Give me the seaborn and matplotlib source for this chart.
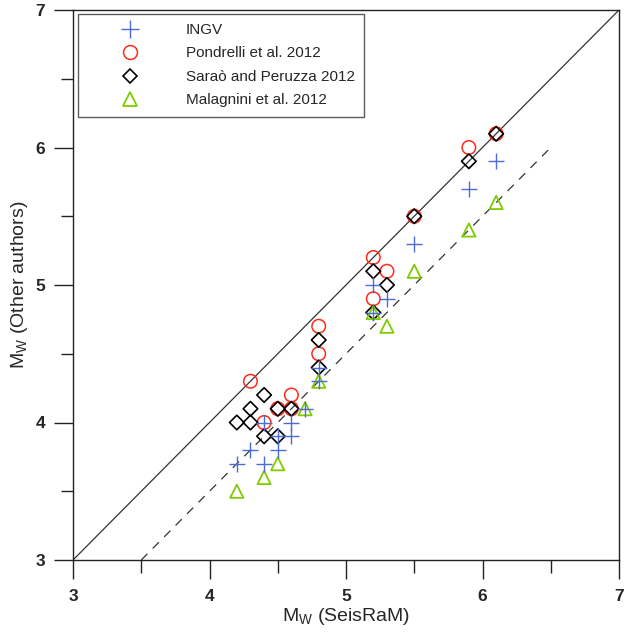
import matplotlib
matplotlib.use("Agg")
import matplotlib.pyplot as plt
import seaborn as sns
import pandas as pd
import numpy as np
from matplotlib.ticker import MultipleLocator
from matplotlib.lines import Line2D

sns.set_theme(style="white")
plt.rcParams['font.family'] = ['Liberation Sans', 'DejaVu Sans']

# INGV
ingv_x = [4.2, 4.3, 4.4, 4.4, 4.5, 4.5, 4.6, 4.6, 4.7, 4.8, 4.8, 5.2, 5.2, 5.3, 5.5, 5.9, 6.1]
ingv_y = [3.7, 3.8, 3.7, 4.0, 3.8, 3.9, 3.9, 4.0, 4.1, 4.4, 4.3, 5.0, 4.8, 4.9, 5.3, 5.7, 5.9]
# Pondrelli et al. 2012
pon_x = [4.3, 4.4, 4.5, 4.6, 4.6, 4.8, 4.8, 5.2, 5.2, 5.3, 5.5, 5.9, 6.1]
pon_y = [4.3, 4.0, 4.1, 4.1, 4.2, 4.5, 4.7, 4.9, 5.2, 5.1, 5.5, 6.0, 6.1]
# Sarao and Peruzza 2012
sar_x = [4.2, 4.3, 4.3, 4.4, 4.4, 4.5, 4.5, 4.6, 4.8, 4.8, 5.2, 5.2, 5.3, 5.5, 5.9, 6.1]
sar_y = [4.0, 4.0, 4.1, 3.9, 4.2, 3.9, 4.1, 4.1, 4.4, 4.6, 4.8, 5.1, 5.0, 5.5, 5.9, 6.1]
# Malagnini et al. 2012
mal_x = [4.2, 4.4, 4.5, 4.7, 4.8, 5.2, 5.3, 5.5, 5.9, 6.1]
mal_y = [3.5, 3.6, 3.7, 4.1, 4.3, 4.8, 4.7, 5.1, 5.4, 5.6]

# reference lines
line1_x = [3, 7]
line1_y = [3, 7]
line2_x = [3.5, 6.5]
line2_y = [3.0, 6.0]

labels = ["INGV", "Pondrelli et al. 2012", "Saraò and Peruzza 2012", "Malagnini et al. 2012"]
colors = ["#4a6cd4", "#ff2a1a", "#000000", "#7fcc00"]

fig = plt.figure(figsize=(6.25, 6.33), dpi=100)
ax = fig.add_axes([73/625, 73/633, 546/625, 550/633])

sns.lineplot(x=line1_x, y=line1_y, ax=ax, color="#333333", lw=0.9, zorder=1)
sns.lineplot(x=line2_x, y=line2_y, ax=ax, color="#333333", lw=0.9, zorder=1,
             linestyle=(0, (7, 6)))

ax.scatter(pon_x, pon_y, s=95, marker='o', facecolors='none',
           edgecolors=colors[1], linewidths=1.1, zorder=2)
sns.scatterplot(x=sar_x, y=sar_y, ax=ax, s=55, marker='D', facecolor='none',
                edgecolor=colors[2], linewidth=1.2, zorder=3)
sns.scatterplot(x=mal_x, y=mal_y, ax=ax, s=90, marker='^', facecolor='none',
                edgecolor=colors[3], linewidth=1.3, zorder=4)
sns.scatterplot(x=ingv_x, y=ingv_y, ax=ax, s=140, marker='+', color=colors[0],
                linewidth=1.0, zorder=5)

handles = [
    Line2D([], [], marker='+', color=colors[0], ls='none', ms=13, mew=1.0),
    Line2D([], [], marker='o', mfc='none', mec=colors[1], ls='none', ms=10, mew=1.1),
    Line2D([], [], marker='D', mfc='none', mec=colors[2], ls='none', ms=7.5, mew=1.2),
    Line2D([], [], marker='^', mfc='none', mec=colors[3], ls='none', ms=10, mew=1.3),
]
leg = ax.legend(handles, labels, loc='upper left', bbox_to_anchor=(0.009, 0.993),
                frameon=True, fancybox=False, fontsize=11, handlelength=5.6,
                handletextpad=0.85, borderpad=0.6, labelspacing=0.62,
                edgecolor='#333333', borderaxespad=0)
leg.get_frame().set_linewidth(1.0)

ax.set_xlim(3, 7)
ax.set_ylim(3, 7)
ax.xaxis.set_major_locator(MultipleLocator(1))
ax.xaxis.set_minor_locator(MultipleLocator(0.5))
ax.yaxis.set_major_locator(MultipleLocator(1))
ax.yaxis.set_minor_locator(MultipleLocator(0.5))
ax.tick_params(which='both', direction='out', color='#222222', bottom=True, left=True,
               top=False, right=False)
ax.tick_params(which='major', length=14, width=1.0, labelsize=12.5)
ax.tick_params(axis='x', which='major', pad=7)
ax.tick_params(axis='y', which='major', pad=6)
ax.tick_params(which='minor', length=9, width=1.0)
for t in ax.get_xticklabels() + ax.get_yticklabels():
    t.set_fontweight('bold')
for s in ax.spines.values():
    s.set_color('#222222')
    s.set_linewidth(1.0)
ax.grid(False)

ax.set_xlabel(r"M$_\mathregular{W}$ (SeisRaM)", fontsize=14, labelpad=1.5)
ax.set_ylabel(r"M$_\mathregular{W}$ (Other authors)", fontsize=14, labelpad=4)

fig.savefig("out.png", dpi=100)
